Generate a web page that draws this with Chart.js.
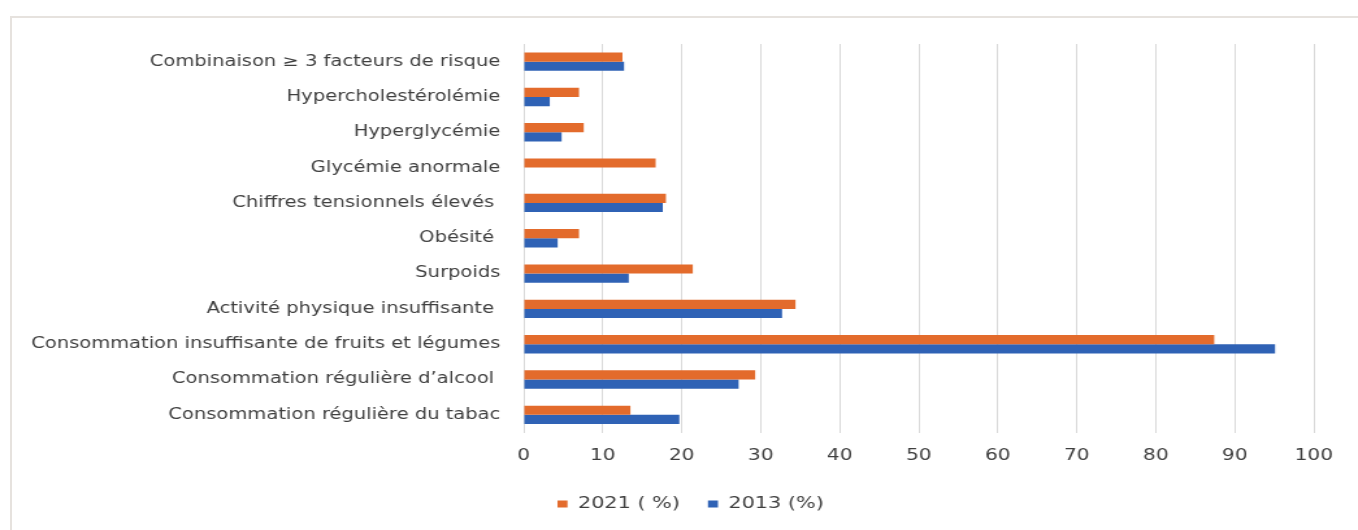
<!DOCTYPE html>
<html>
<head>
<meta charset="utf-8">
<script src="https://cdn.jsdelivr.net/npm/chart.js@4"></script>
<style>
    html, body { margin: 0; padding: 0; background: #fff; overflow: hidden; }
    #cadre { position: absolute; left: 10px; top: 16px; right: 0; bottom: 0;
             border-left: 2px solid #e6e2de; border-top: 2px solid #e6e2de; }
    /* le graphique est dessiné étroit puis étiré en largeur */
    #zone { position: absolute; left: 0; top: 0; width: 1045px; height: 530px;
            transform: scaleX(1.2995); transform-origin: 0 0; }
</style>
</head>
<body>
<div id="cadre"></div>
<div id="zone"><canvas id="graphe" width="1045" height="530"></canvas></div>
<script>
// facteurs de risque, du haut vers le bas
var facteurs = [
    'Combinaison \u2265 3 facteurs de risque',
    'Hypercholestérolémie',
    'Hyperglycémie',
    'Glycémie anormale',
    'Chiffres tensionnels élevés ',
    'Obésité ',
    'Surpoids',
    'Activité physique insuffisante ',
    'Consommation insuffisante de fruits et légumes',
    'Consommation régulière d\u2019alcool ',
    'Consommation régulière du tabac'
];
var valeurs2021 = [12.5, 7.0, 7.6, 16.7, 18.0, 7.0, 21.4, 34.4, 87.4, 29.3, 13.5];
var valeurs2013 = [12.7, 3.3, 4.8, null, 17.6, 4.3, 13.3, 32.7, 95.1, 27.2, 19.7];
var series = ['2021 ( %)', '2013 (%)'];

var couleurTexte = '#3f3f3f';
var couleurGrille = '#d9d9d9';
var police = 'DejaVu Sans';

// décale la légende vers la droite, sous le tracé
var decalageLegende = {
    id: 'decalageLegende',
    afterLayout: function (chart) {
        chart.legend.left += 22;
        chart.legend.right += 22;
    }
};

var ctx = document.getElementById('graphe');
var graphe = new Chart(ctx, {
    type: 'bar',
    data: {
        labels: facteurs,
        datasets: [{
            label: series[0],
            data: valeurs2021,
            backgroundColor: '#e36b2c'
        }, {
            label: series[1],
            data: valeurs2013,
            backgroundColor: '#2f62b5'
        }]
    },
    plugins: [decalageLegende],
    options: {
        indexAxis: 'y',
        responsive: false,
        animation: false,
        devicePixelRatio: 1,
        layout: { padding: { left: 8, top: 44, right: 34, bottom: 8 } },
        datasets: { bar: { categoryPercentage: 0.52, barPercentage: 1 } },
        plugins: {
            tooltip: { enabled: false },
            legend: {
                position: 'bottom',
                labels: {
                    boxWidth: 7.7,
                    boxHeight: 7,
                    padding: 21.5,
                    color: couleurTexte,
                    font: { family: police, size: 16 }
                }
            }
        },
        scales: {
            x: {
                min: 0,
                max: 100,
                ticks: { stepSize: 10, padding: 14, color: couleurTexte, font: { family: police, size: 15.5 } },
                grid: { color: couleurGrille, drawTicks: false },
                border: { display: false },
                afterFit: function (s) { s.height = 42; }
            },
            y: {
                grid: { display: false, drawTicks: false },
                border: { color: couleurGrille },
                ticks: { padding: 18, color: couleurTexte, font: { family: police, size: 15 } },
                afterFit: function (s) { s.width = 395; }
            }
        }
    }
});
</script>
</body>
</html>
